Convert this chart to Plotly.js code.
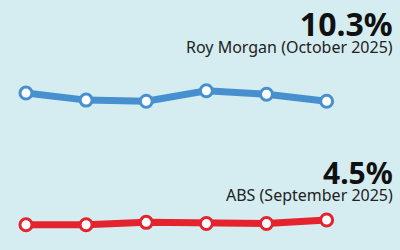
<!DOCTYPE html>
<html><head><meta charset="utf-8">
<script src="https://cdn.plot.ly/plotly-3.0.1.min.js"></script>
<style>html,body{margin:0;padding:0;background:#d5edf1;}#chart{width:400px;height:250px;}</style>
</head><body><div id="chart"></div>
<script>
const months = [0, 1, 2, 3, 4, 5];
const royMorgan = [11.0, 10.4, 10.3, 11.2, 10.9, 10.3];
const abs = [4.1, 4.1, 4.3, 4.2, 4.2, 4.5];
const royLabel = "10.3%";
const royCaption = "Roy Morgan (October 2025)";
const absLabel = "4.5%";
const absCaption = "ABS (September 2025)";

const blue = "#4690cf", red = "#e5232e", bg = "#d5edf1";
const fontFam = "Noto Sans, Open Sans, sans-serif";

function label(big, bigSize, cap) {
  return '<span style="font-size:' + bigSize + 'px;color:#111111"><b>' + big + '</b></span><br>' +
         '<span style="font-size:16px">' + cap + '</span>';
}

const traces = [
  {x: months, y: royMorgan, type: "scatter", mode: "lines+markers", yaxis: "y",
   line: {color: blue, width: 7}, marker: {size: 12, color: "#ffffff", line: {color: blue, width: 3}},
   hoverinfo: "skip"},
  {x: months, y: abs, type: "scatter", mode: "lines+markers", yaxis: "y2",
   line: {color: red, width: 7}, marker: {size: 12, color: "#ffffff", line: {color: red, width: 3}},
   hoverinfo: "skip"}
];

const layout = {
  width: 400, height: 250,
  margin: {l: 0, r: 0, t: 0, b: 0},
  paper_bgcolor: bg, plot_bgcolor: bg,
  showlegend: false,
  xaxis: {range: [-0.432, 6.22], visible: false, fixedrange: true},
  yaxis: {range: [-2.355, 18.92], visible: false, fixedrange: true},
  yaxis2: {range: [1.947, 23.22], visible: false, overlaying: "y", fixedrange: true},
  annotations: [
    {text: label(royLabel, 32, royCaption), xref: "paper", yref: "paper", x: 0.982, y: 0.88,
     xanchor: "right", yanchor: "middle", align: "right", showarrow: false, borderpad: 0, borderwidth: 0,
     font: {family: fontFam, size: 13, color: "#222222"}},
    {text: label(absLabel, 30, absCaption), xref: "paper", yref: "paper", x: 0.982, y: 0.286,
     xanchor: "right", yanchor: "middle", align: "right", showarrow: false, borderpad: 0, borderwidth: 0,
     font: {family: fontFam, size: 13, color: "#222222"}}
  ]
};
Plotly.newPlot("chart", traces, layout, {staticPlot: true, displayModeBar: false});
</script></body></html>
